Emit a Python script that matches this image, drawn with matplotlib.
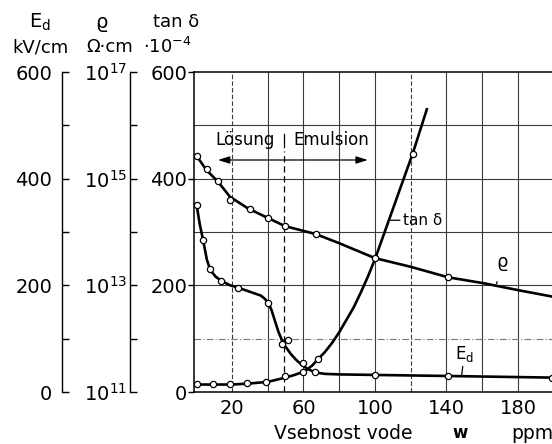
import numpy as np
import matplotlib
matplotlib.use("Agg")
import matplotlib.pyplot as plt
from matplotlib.ticker import FixedLocator, NullFormatter

plt.rcParams['font.family'] = ['DejaVu Sans']

# ---------------- data ----------------
# water content w [ppm]; E_d and tan d on the 0..600 scale; rho as log10(Ohm cm)
ed_line_x = [0.3, 2, 4, 6, 8, 11, 14, 19, 23.5, 30, 36, 38, 40, 42, 44, 46, 48, 50, 53,
             56, 59, 62, 65, 68, 72, 80, 100, 141, 199]
ed_line_y = [350, 315, 283, 248, 228, 216, 208.7, 200, 195.6, 188, 181, 176, 169, 155, 134,
             113, 97, 85, 71, 60, 51, 44, 39, 36, 34, 33, 32, 30, 27]
ed_pts_x = [0.3, 3.9, 7.7, 13.9, 23.5, 40.3, 47.8, 51.6, 60, 66.6, 100, 141, 199]
ed_pts_y = [350, 285, 230, 208.7, 195.6, 167.5, 90, 97.5, 55, 38, 32, 30, 27]

tan_line_x = [0, 10, 20, 30, 40, 45, 50, 55, 60, 62, 65, 68, 72, 76, 80, 84, 88, 92, 96,
              100, 105, 110, 115, 121, 129]
tan_line_y = [14, 14, 14, 16, 19, 23, 27, 32, 38, 42, 50, 61, 75, 92, 112, 135, 158, 186,
              216, 249, 296, 343, 390, 446, 530]
tan_pts_x = [0.2, 9.2, 18.9, 28.6, 39, 49.7, 60, 68, 121]
tan_pts_y = [15, 15, 15, 16.3, 19.4, 30, 37, 62, 446]

rho_line_x = [0.3, 5.8, 12.3, 18.9, 29.1, 40.3, 49.7, 67, 80, 90, 100, 119.7, 141, 160.7, 180, 199]
rho_line_exp = [15.425, 15.16, 14.94, 14.66, 14.44, 14.26, 14.11, 13.96, 13.79, 13.65, 13.51,
                13.35, 13.15, 13.04, 12.91, 12.79]
rho_pts_x = [0.3, 6.3, 12.5, 19, 30, 40.4, 49.7, 66.9, 100, 141]
rho_pts_exp = [15.43, 15.18, 14.96, 14.60, 14.44, 14.26, 14.11, 13.96, 13.51, 13.15]

x_major = [20, 60, 100, 140, 180]
x_grid = [20, 40, 60, 80, 100, 120, 140, 160, 180]
y_major = [0, 200, 400, 600]
y_minor = [100, 300, 500]
y_grid = [100, 200, 300, 400, 500]
rho_major = [1e11, 1e13, 1e15, 1e17]
rho_labels = ['$10^{11}$', '$10^{13}$', '$10^{15}$', '$10^{17}$']
rho_minor = [1e12, 1e14, 1e16]

# ---------------- figure ----------------
W, H = 552, 444
fig = plt.figure(figsize=(W / 100, H / 100), dpi=100)

def fx(px):
    return px / W

def fy(py):
    return 1 - py / H

bottom = fy(392)
height = (392 - 72) / H
ax = fig.add_axes([fx(194), bottom, 1 - fx(194), height])
ax.set_xlim(-1.2, 199)
ax.set_ylim(0, 600)
ax.spines['right'].set_visible(False)
for s in ['left', 'top', 'bottom']:
    ax.spines[s].set_linewidth(1.1)

ax.set_xticks(x_major)
ax.set_xticklabels([str(v) for v in x_major])
ax.set_yticks(y_major)
ax.tick_params(axis='x', length=0, pad=5, labelsize=14)
ax.tick_params(axis='y', direction='out', length=4, width=1.0, pad=1, labelsize=14)

gc = '#3a3a3a'
for xv in x_grid:
    ls = (0, (4, 2)) if xv in (20, 120) else '-'
    ax.axvline(xv, color=gc, lw=0.8, ls=ls, zorder=1)
for yv in y_grid:
    ls = (0, (6, 2, 1, 2)) if yv == 100 else '-'
    ax.axhline(yv, color=gc if yv != 100 else '#777777', lw=0.8, ls=ls, zorder=1)

lw = 1.9
mk = dict(marker='o', ls='none', ms=4.5, mfc='white', mec='black', mew=0.9, zorder=5)

ax.plot(ed_line_x, ed_line_y, color='black', lw=lw, zorder=3, solid_joinstyle='round')
ax.plot(ed_pts_x, ed_pts_y, **mk)
ax.plot(tan_line_x, tan_line_y, color='black', lw=lw, zorder=3, solid_joinstyle='round')
ax.plot(tan_pts_x, tan_pts_y, **mk)

axr = ax.twinx()
axr.set_yscale('log')
axr.set_ylim(1e11, 1e17)
axr.axis('off')
axr.plot(rho_line_x, 10 ** np.array(rho_line_exp), color='black', lw=lw, zorder=3,
         solid_joinstyle='round')
axr.plot(rho_pts_x, 10 ** np.array(rho_pts_exp), **mk)
axr.set_xlim(ax.get_xlim())

# region annotation
ax.plot([49, 49], [0, 452], color='black', lw=0.9, ls=(0, (5, 3)), zorder=2)
ax.plot([49, 49], [460, 484], color='black', lw=0.9, zorder=2)
ax.text(27.3, 472, 'Lösung', ha='center', va='center', fontsize=12)
ax.text(75.7, 472, 'Emulsion', ha='center', va='center', fontsize=12)
ax.annotate('', xy=(12.2, 435), xytext=(96, 435),
            arrowprops=dict(arrowstyle='<|-|>,head_length=0.7,head_width=0.22',
                            lw=0.9, color='black', shrinkA=0, shrinkB=0))

# curve labels
ax.annotate('tan δ', xy=(107.5, 322), xytext=(115.5, 322), fontsize=11, va='center',
            ha='left', arrowprops=dict(arrowstyle='-', lw=0.9, color='black',
                                       shrinkA=0, shrinkB=0))
ax.annotate('ϱ', xy=(168, 203), xytext=(171, 244), fontsize=13, va='center', ha='center',
            arrowprops=dict(arrowstyle='-', lw=0.9, color='black', shrinkA=6, shrinkB=0))
ax.annotate('E$_\\mathrm{d}$', xy=(148.5, 32), xytext=(150, 72), fontsize=12, va='center',
            ha='center', arrowprops=dict(arrowstyle='-', lw=0.9, color='black',
                                         shrinkA=7, shrinkB=0))

# ---------------- left scales ----------------
axe = fig.add_axes([fx(62), bottom, 0.0001, height])
axe.set_ylim(0, 600)
axe.patch.set_visible(False)
for s in ['right', 'top', 'bottom']:
    axe.spines[s].set_visible(False)
axe.spines['left'].set_linewidth(1.0)
axe.set_xticks([])
axe.yaxis.set_major_locator(FixedLocator(y_major))
axe.yaxis.set_minor_locator(FixedLocator(y_minor))
axe.tick_params(axis='y', which='both', direction='in', length=5, width=1.0,
                pad=7, labelsize=14)

axq = fig.add_axes([fx(130), bottom, 0.0001, height])
axq.set_yscale('log')
axq.set_ylim(1e11, 1e17)
axq.patch.set_visible(False)
for s in ['right', 'top', 'bottom']:
    axq.spines[s].set_visible(False)
axq.spines['left'].set_linewidth(1.0)
axq.set_xticks([])
axq.yaxis.set_major_locator(FixedLocator(rho_major))
axq.yaxis.set_minor_locator(FixedLocator(rho_minor))
axq.yaxis.set_minor_formatter(NullFormatter())
axq.set_yticklabels(rho_labels)
axq.tick_params(axis='y', which='both', direction='in', length=5, width=1.0,
                pad=2, labelsize=14)

# ---------------- headers and axis title ----------------
fs = 14
fig.text(fx(40), fy(22), 'E$_\\mathrm{d}$', ha='center', va='center', fontsize=fs)
fig.text(fx(41), fy(47), 'kV/cm', ha='center', va='center', fontsize=13)
fig.text(fx(101), fy(22), 'ϱ', ha='center', va='center', fontsize=fs)
fig.text(fx(110), fy(47), 'Ω·cm', ha='center', va='center', fontsize=13)
fig.text(fx(176), fy(22), 'tan δ', ha='center', va='center', fontsize=13)
fig.text(fx(167), fy(47), '·10$^{-4}$', ha='center', va='center', fontsize=13)

fig.text(fx(343), fy(433), 'Vsebnost vode', ha='center', va='center', fontsize=13.5)
fig.text(fx(460), fy(433), 'w', ha='center', va='center', fontsize=12, fontweight='bold')
fig.text(fx(511), fy(433), 'ppm', ha='left', va='center', fontsize=13.5)

fig.savefig('out.png', dpi=100)
